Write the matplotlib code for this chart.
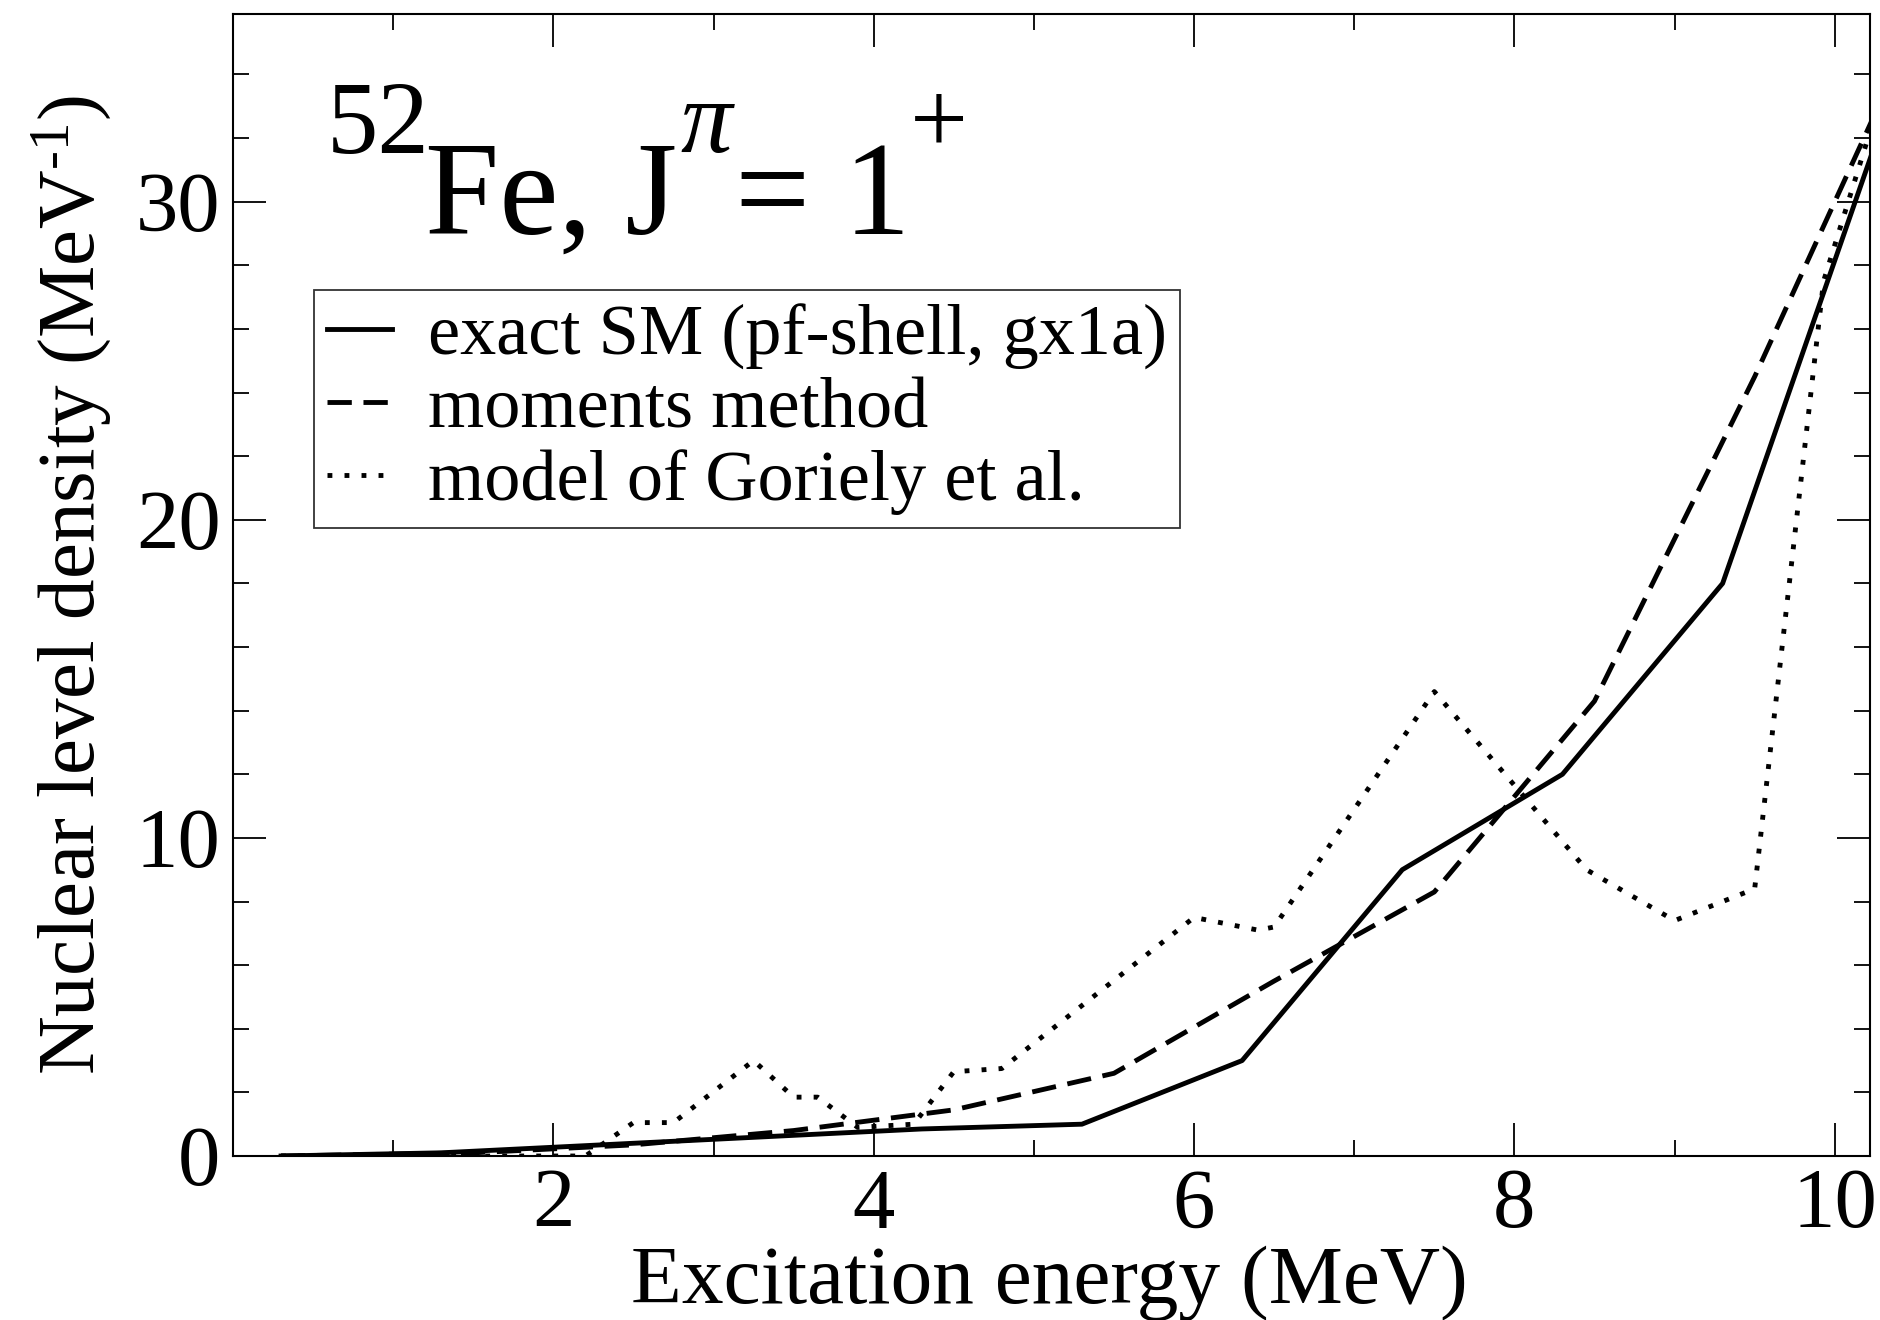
import matplotlib
matplotlib.use("Agg")
import matplotlib.pyplot as plt

# exact shell model (pf-shell, gx1a)
e_sm = [0.3, 1.3, 2.3, 3.3, 4.3, 5.3, 6.3, 7.3, 8.3, 9.3, 10.3]
rho_sm = [0.0, 0.1, 0.35, 0.6, 0.85, 1.0, 3.0, 9.0, 12.0, 18.0, 32.5]

# moments method
e_mom = [0.3, 1.5, 2.5, 3.5, 4.5, 5.5, 6.5, 7.5, 8.5, 9.5, 10.5]
rho_mom = [0.0, 0.1, 0.35, 0.8, 1.45, 2.6, 5.5, 8.3, 14.3, 24.5, 35.5]

# Goriely et al.
e_gor = [0.3, 2.2, 2.5, 2.75, 3.25, 3.5, 3.65, 3.9, 4.25, 4.5, 4.8,
         6.0, 6.4, 6.5, 7.5, 8.45, 9.0, 9.5, 9.93, 10.3]
rho_gor = [0.0, 0.0, 1.05, 1.05, 3.0, 1.85, 1.85, 0.9, 1.0, 2.65, 2.75,
           7.5, 7.1, 7.2, 14.6, 9.0, 7.4, 8.4, 27.5, 33.5]

plt.rcParams['font.family'] = ['Liberation Serif', 'DejaVu Serif']
plt.rcParams['mathtext.fontset'] = 'custom'
plt.rcParams['mathtext.rm'] = 'Liberation Serif'
plt.rcParams['mathtext.it'] = 'Liberation Serif:italic'

fig = plt.figure(figsize=(18.8, 13.2), dpi=100)
ax = fig.add_axes([233/1880, 1-1156/1320, (1870-233)/1880, (1156-14)/1320])

lw = 3.5
ax.plot(e_sm, rho_sm, color='black', lw=lw, label='exact SM (pf-shell, gx1a)')
ax.plot(e_mom, rho_mom, color='black', lw=lw, dashes=(5, 2.4), label='moments method')
ax.plot(e_gor, rho_gor, color='black', lw=lw, dashes=(1, 2.5), label='model of Goriely et al.')

ax.set_xlim(0, 10.22)
ax.set_ylim(0, 35.9)
ax.set_xticks([2, 4, 6, 8, 10])
ax.set_xticks([1, 3, 5, 7, 9], minor=True)
ax.set_yticks([0, 10, 20, 30])
ax.set_yticks([2, 4, 6, 8, 12, 14, 16, 18, 22, 24, 26, 28, 32, 34], minor=True)
ax.tick_params(which='both', direction='in', top=True, right=True, width=1.3, labelsize=61)
ax.tick_params(which='major', length=24, pad=9)
ax.tick_params(which='minor', length=11.5)
for s in ax.spines.values():
    s.set_linewidth(1.5)

ax.set_xlabel('Excitation energy (MeV)', fontsize=60)
ax.set_ylabel(r'Nuclear level density (MeV$^{\text{-1}}$)', fontsize=58.5)
ax.xaxis.set_label_coords(0.499, -0.078)
ax.yaxis.set_label_coords(-0.072, 0.5)

# panel title, built from pieces so the superscripts sit high like the original
def px(x, y):
    return (x - 233) / 1637, (1156 - y) / 1142

title_parts = [('52', 327, 153, 74, 'normal'),
               ('Fe, J', 425, 234, 96, 'normal'),
               ('\u03c0', 680, 152, 74, 'italic'),
               ('= 1', 735, 234, 96, 'normal'),
               ('+', 910, 152, 74, 'normal')]
for s, x, y, fs, st in title_parts:
    tx, ty = px(x, y)
    ax.text(tx, ty, s, transform=ax.transAxes, fontsize=fs, style=st,
            ha='left', va='baseline')

leg = ax.legend(loc='upper left', bbox_to_anchor=(0.0495, 0.758), borderaxespad=0,
                fontsize=52, frameon=True, fancybox=False, edgecolor='black',
                handlelength=0.9, handletextpad=0.5, labelspacing=0.1, borderpad=0.18)
leg.get_frame().set_linewidth(1.3)

fig.savefig('out.png', dpi=100)
